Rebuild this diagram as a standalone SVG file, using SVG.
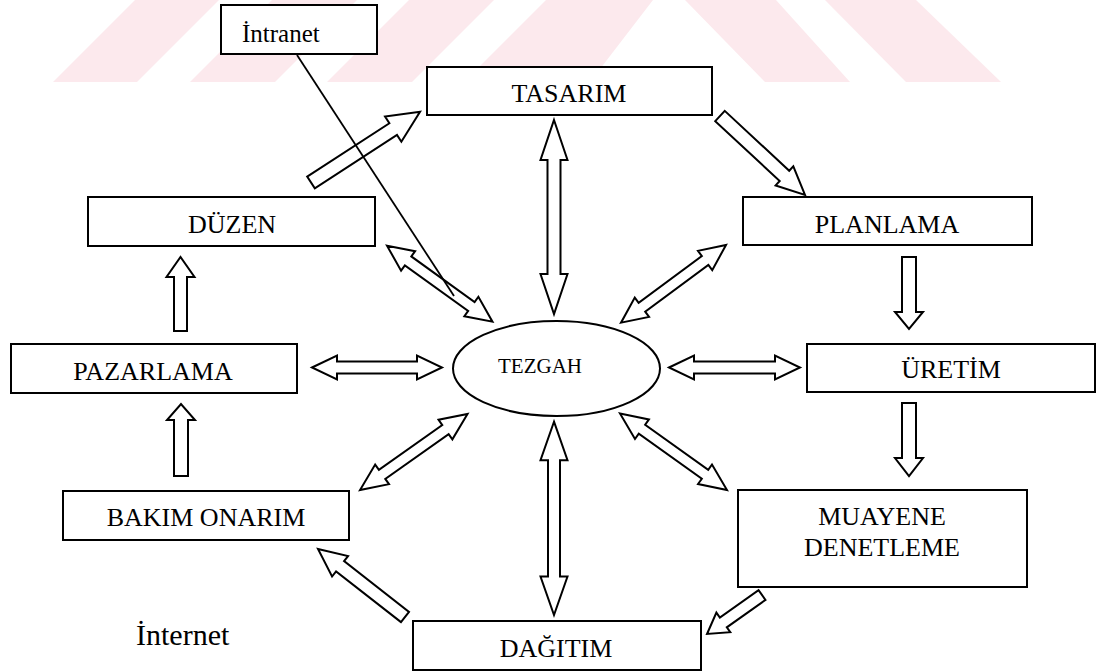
<svg xmlns="http://www.w3.org/2000/svg" width="1098" height="671" viewBox="0 0 1098 671">
<style>
.box{fill:#fff;stroke:#000;stroke-width:2}
.arr{fill:#fff;stroke:#000;stroke-width:2;stroke-linejoin:miter}
.lbl{font-family:"Liberation Serif","Times New Roman",serif;font-size:26px;fill:#000;text-anchor:middle}
.wm{fill:#fce9ed;stroke:none}
</style>
<rect width="1098" height="671" fill="#fff"/>
<g id="watermark">
<polygon class="wm" points="53,82 137,82 219,0 135,0"/>
<polygon class="wm" points="190,82 275,82 357,0 272,0"/>
<polygon class="wm" points="327,82 412,82 494,0 409,0"/>
<polygon class="wm" points="464,82 590,82 653,0 546,0"/>
<polygon class="wm" points="685,0 776,0 850,82 765,82"/>
<polygon class="wm" points="825,0 916,0 1001,82 906,82"/>
</g>
<g id="connectors">
<polygon id="a1" class="arr" transform="translate(311,182.5) rotate(-33)" points="0,-7 98,-7 98,-15 130,0 98,15 98,7 0,7"/>
<polygon id="a2" class="arr" transform="translate(720,116) rotate(42.9)" points="0,-7 88,-7 88,-13 116,0 88,13 88,7 0,7"/>
<polygon id="a3" class="arr" transform="translate(554,120) rotate(90)" points="0,0 40,-13.5 40,-6.5 154,-6.5 154,-13.5 194,0 154,13.5 154,6.5 40,6.5 40,13.5"/>
<polygon id="a4" class="arr" transform="translate(387,245.7) rotate(35.77)" points="0,0 26,-12 26,-5.5 104,-5.5 104,-12 130,0 104,12 104,5.5 26,5.5 26,12"/>
<polygon id="a5" class="arr" transform="translate(726,245) rotate(143.5)" points="0,0 26,-12 26,-5.5 104.6,-5.5 104.6,-12 130.6,0 104.6,12 104.6,5.5 26,5.5 26,12"/>
<polygon id="a6" class="arr" transform="translate(909,257) rotate(90)" points="0,-7 55,-7 55,-14 72,0 55,14 55,7 0,7"/>
<polygon id="a7" class="arr" transform="translate(312,367.5)" points="0,0 25,-12 25,-6 105,-6 105,-12 130,0 105,12 105,6 25,6 25,12"/>
<polygon id="a8" class="arr" transform="translate(669,367.5)" points="0,0 25,-12 25,-6 106,-6 106,-12 131,0 106,12 106,6 25,6 25,12"/>
<polygon id="a9" class="arr" transform="translate(180.5,331) rotate(-90)" points="0,-6.5 54,-6.5 54,-14 74,0 54,14 54,6.5 0,6.5"/>
<polygon id="a10" class="arr" transform="translate(181,476) rotate(-90)" points="0,-7 56,-7 56,-14 72,0 56,14 56,7 0,7"/>
<polygon id="a11" class="arr" transform="translate(467.5,414) rotate(144.74)" points="0,0 27,-12 27,-5.5 104.6,-5.5 104.6,-12 131.6,0 104.6,12 104.6,5.5 27,5.5 27,12"/>
<polygon id="a12" class="arr" transform="translate(620,413.5) rotate(35.56)" points="0,0 27,-12 27,-5.5 104.5,-5.5 104.5,-12 131.5,0 104.5,12 104.5,5.5 27,5.5 27,12"/>
<polygon id="a13" class="arr" transform="translate(554,421.7) rotate(90)" points="0,0 38.5,-13.5 38.5,-6 154.8,-6 154.8,-13.5 193.3,0 154.8,13.5 154.8,6 38.5,6 38.5,13.5"/>
<polygon id="a14" class="arr" transform="translate(909,403) rotate(90)" points="0,-7 55,-7 55,-14 73,0 55,14 55,7 0,7"/>
<polygon id="a15" class="arr" transform="translate(762,595) rotate(144.66)" points="0,-6 47.4,-6 47.4,-12 67.4,0 47.4,12 47.4,6 0,6"/>
<polygon id="a16" class="arr" transform="translate(405,617) rotate(218)" points="0,-6.5 82.4,-6.5 82.4,-13 110.4,0 82.4,13 82.4,6.5 0,6.5"/>
<line id="intranet-link" x1="297" y1="55" x2="454" y2="296" stroke="#000" stroke-width="1.8"/>
</g>
<g id="intranet">
<rect class="box" x="221" y="5" width="156" height="49"/>
<text x="242" y="42" font-family="Liberation Serif, Times New Roman, serif" font-size="25" fill="#000">İntranet</text>
</g>
<g id="tasarim">
<rect class="box" x="427" y="67" width="285" height="48"/>
<text class="lbl" x="569" y="102">TASARIM</text>
</g>
<g id="duzen">
<rect class="box" x="88" y="197" width="287" height="49"/>
<text class="lbl" x="232" y="233">DÜZEN</text>
</g>
<g id="planlama">
<rect class="box" x="743" y="197" width="289" height="48"/>
<text class="lbl" x="887" y="233">PLANLAMA</text>
</g>
<g id="pazarlama">
<rect class="box" x="11" y="344" width="286" height="49"/>
<text class="lbl" x="153" y="380">PAZARLAMA</text>
</g>
<g id="tezgah">
<ellipse cx="556.5" cy="368.5" rx="103.5" ry="47.5" fill="#fff" stroke="#000" stroke-width="2"/>
<text x="540" y="373" font-family="Liberation Serif, Times New Roman, serif" font-size="21" fill="#000" text-anchor="middle">TEZGAH</text>
</g>
<g id="uretim">
<rect class="box" x="807" y="344" width="288" height="48"/>
<text class="lbl" x="951" y="378">ÜRETİM</text>
</g>
<g id="bakim">
<rect class="box" x="63" y="491" width="286" height="49"/>
<text class="lbl" x="206" y="526">BAKIM ONARIM</text>
</g>
<g id="muayene">
<rect class="box" x="738" y="490" width="289" height="97"/>
<text class="lbl" x="882" y="525">MUAYENE</text>
<text class="lbl" x="882" y="556">DENETLEME</text>
</g>
<g id="dagitim">
<rect class="box" x="413" y="621" width="288" height="49"/>
<text class="lbl" x="556" y="657">DAĞITIM</text>
</g>
<g id="internet">
<text x="136" y="645" font-family="Liberation Serif, Times New Roman, serif" font-size="30" fill="#000">İnternet</text>
</g>
</svg>
